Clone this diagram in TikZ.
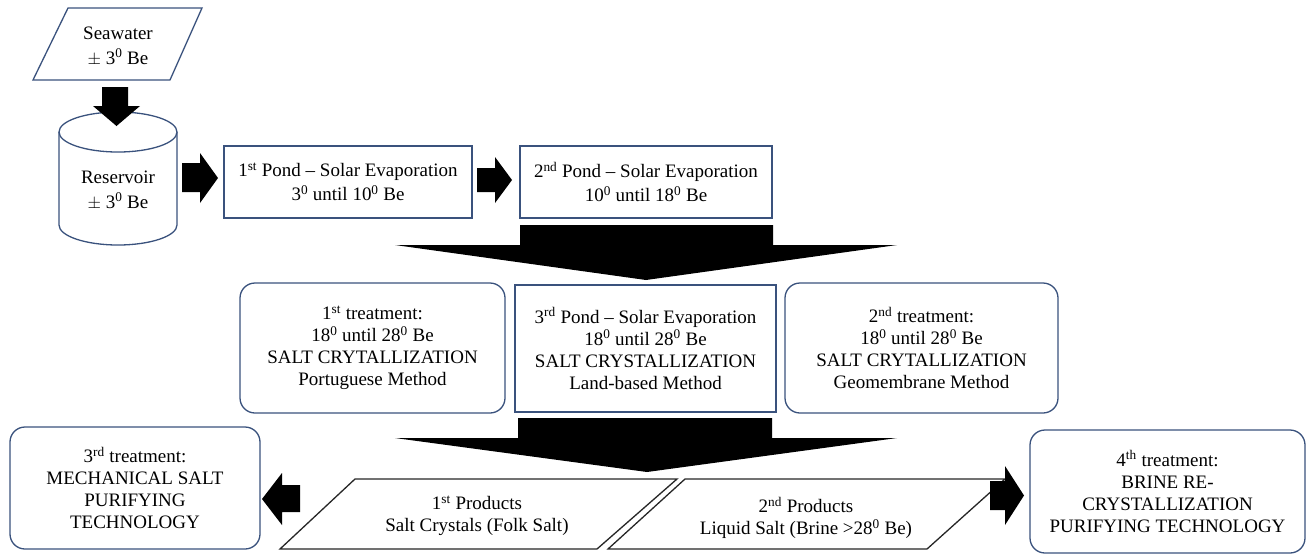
\documentclass[tikz,border=0pt]{standalone}
\usepackage{fontspec}
\setmainfont{Liberation Serif}
\definecolor{boxblue}{RGB}{58,82,125}
\newcommand\txtfont{\fontsize{19}{22}\selectfont}
\newcommand\widefont{\fontsize{19}{25}\selectfont}
\newcommand\sps[1]{\textsuperscript{#1}}
\begin{document}
\begin{tikzpicture}[x=1pt,y=-1pt,
  bluepen/.style={draw=boxblue, line width=1.3pt},
  bluebox/.style={bluepen, fill=white, inner sep=0pt, align=center, font=\txtfont},
  rbox/.style={bluebox, rounded corners=15pt},
  lbl/.style={align=center, inner sep=0pt, font=\txtfont},
  widelbl/.style={align=center, inner sep=0pt, font=\widefont},
  prodpen/.style={draw=black!85, line width=1.3pt},
  blk/.style={fill=black}]
\useasboundingbox (0,0) rectangle (1308,555);

% Seawater
\draw[bluepen, fill=white] (68,8) -- (202,8) -- (170,80) -- (33,80) -- cycle;
\node[widelbl] (sea) at (118,46) {Seawater\\$\pm$ 3\sps{0} Be};

% Reservoir cylinder
\draw[bluepen, fill=white] (59,132) -- (59,225) .. controls (59,236) and (85.4,245) .. (118,245)
  .. controls (150.6,245) and (177,236) .. (177,225) -- (177,132);
\draw[bluepen, fill=white] (118,132) ellipse [x radius=59pt, y radius=20pt];
\node[widelbl] (res) at (118,190) {Reservoir\\$\pm$ 3\sps{0} Be};

% Top ponds
\node[bluebox, font=\fontsize{19}{24}\selectfont, minimum width=248pt, minimum height=72pt] (p1) at (348,182)
  {1\sps{st} Pond -- Solar Evaporation\\3\sps{0} until 10\sps{0} Be};
\node[bluebox, font=\fontsize{19}{24}\selectfont, minimum width=252pt, minimum height=72pt] (p2) at (646,182)
  {2\sps{nd} Pond -- Solar Evaporation\\10\sps{0} until 18\sps{0} Be};

% Middle row
\node[rbox, minimum width=265pt, minimum height=130pt] (t1) at (372.5,348)
  {1\sps{st} treatment:\\18\sps{0} until 28\sps{0} Be\\SALT CRYTALLIZATION\\Portuguese Method};
\node[bluebox, line width=1.8pt, minimum width=261pt, minimum height=127pt] (p3) at (645.5,348.5)
  {3\sps{rd} Pond -- Solar Evaporation\\18\sps{0} until 28\sps{0} Be\\SALT CRYSTALLIZATION\\Land-based Method};
\node[rbox, minimum width=273pt, minimum height=130pt] (t2) at (921.5,348)
  {2\sps{nd} treatment:\\18\sps{0} until 28\sps{0} Be\\SALT CRYTALLIZATION\\Geomembrane Method};

% Bottom row
\node[rbox, minimum width=250pt, minimum height=122pt] (t3) at (135,488)
  {3\sps{rd} treatment:\\MECHANICAL SALT\\PURIFYING\\TECHNOLOGY};
\node[rbox, minimum width=275pt, minimum height=123pt] (t4) at (1167.5,491.5)
  {4\sps{th} treatment:\\BRINE RE-\\CRYSTALLIZATION\\PURIFYING TECHNOLOGY};

\draw[prodpen, fill=white] (355,479) -- (677,479) -- (597,549) -- (280,549) -- cycle;
\draw[prodpen, fill=white] (685,479) -- (1005,479) -- (927,549) -- (608,549) -- cycle;
\node[lbl] (pr1) at (477,516) {1\sps{st} Products\\Salt Crystals (Folk Salt)};
\node[lbl] (pr2) at (806,518) {2\sps{nd} Products\\Liquid Salt (Brine >28\sps{0} Be)};

% Block arrows
\fill[blk] (102,87) -- (128,87) -- (128,106) -- (140,106) -- (116.5,126) -- (93,106) -- (102,106) -- cycle;
\fill[blk] (182,163) -- (200,163) -- (200,153) -- (218,178) -- (200,203) -- (200,192) -- (182,192) -- cycle;
\fill[blk] (477,168) -- (495,168) -- (495,157) -- (512,180) -- (495,203) -- (495,192) -- (477,192) -- cycle;
\fill[blk] (520,225) -- (773,225) -- (773,245) -- (897,245) -- (646,280) -- (395,245) -- (520,245) -- cycle;
\fill[blk] (518,418) -- (772,418) -- (772,438) -- (897,438) -- (647,472) -- (395,438) -- (518,438) -- cycle;
\fill[blk] (300,485) -- (282,485) -- (282,473) -- (262,499) -- (282,525) -- (282,512) -- (300,512) -- cycle;
\fill[blk] (990,481) -- (1005,481) -- (1005,466) -- (1024,495.5) -- (1005,525) -- (1005,510) -- (990,510) -- cycle;
\end{tikzpicture}
\end{document}
